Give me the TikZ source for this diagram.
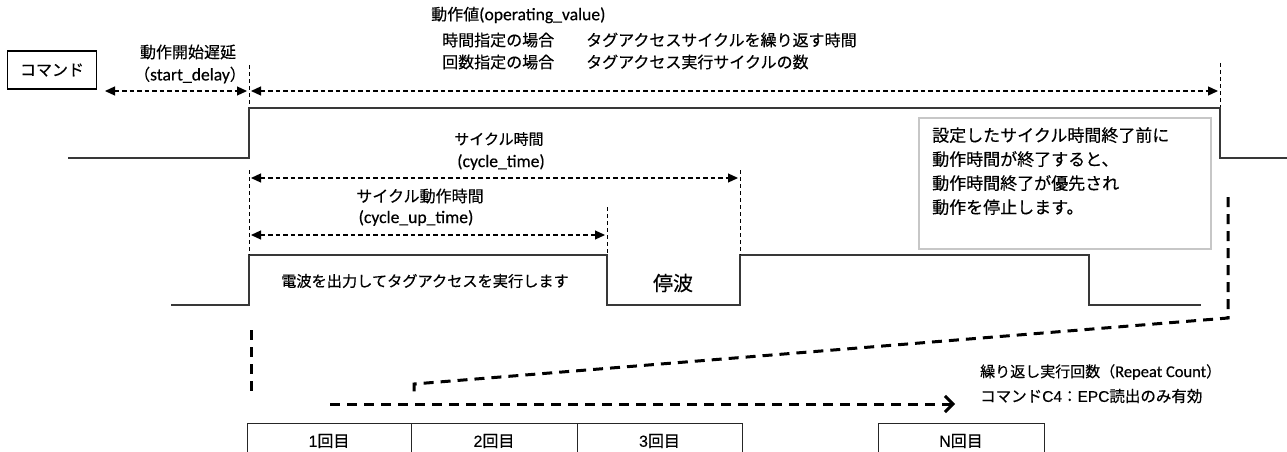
\documentclass[tikz,border=0pt]{standalone}
\usepackage{fontspec}
\setmainfont[FakeBold=0.35]{Noto Sans CJK JP}
\newfontfamily\lat[Scale=1.1,FakeBold=0.35]{Carlito}
\newfontfamily\arl[FakeBold=0.2]{Liberation Sans}
\usetikzlibrary{arrows.meta}
\begin{document}
\begin{tikzpicture}[x=1pt,y=-1pt,
  sig/.style={draw=black!78,line width=1.6pt},
  guide/.style={draw=black,line width=0.9pt,dash pattern=on 4pt off 3pt},
  dim/.style={draw=black,line width=1.2pt,dash pattern=on 4.5pt off 3pt,
    {Triangle[length=10pt,width=9pt]}-{Triangle[length=10pt,width=9pt]}},
  big/.style={draw=black,line width=3pt,dash pattern=on 10pt off 7pt},
  lbl/.style={inner sep=0pt,font=\fontsize{16}{18}\selectfont},
  cell/.style={draw=black!85,line width=1pt,minimum height=36pt,inner sep=0pt,
    font=\fontsize{16}{18}\selectfont},
  ]
\useasboundingbox (0,0) rectangle (1287,452);
\clip (0,0) rectangle (1287,452);
\fill[white] (0,0) rectangle (1287,452);

% command box and labels
\node[draw=black,line width=1.3pt,minimum width=89pt,minimum height=38pt,inner sep=0pt,
  font=\fontsize{16}{18}\selectfont] (cmd) at (52,70) {コマンド};
\node[lbl] (sdl) at (188,52) {動作開始遅延};
\node[lbl] (sdl2) at (190,75) {（{\lat start\_delay}）};
\node[lbl,anchor=west] (ov1) at (431,15) {動作値{\lat(operating\_value)}};
\node[lbl,anchor=west] (ov2) at (442,40) {時間指定の場合　　タグアクセスサイクルを繰り返す時間};
\node[lbl,anchor=west] (ov3) at (442,62) {回数指定の場合　　タグアクセス実行サイクルの数};

% coordinates
\coordinate (sdA) at (105,91);
\coordinate (sdB) at (247,91);
\coordinate (ovA) at (251,91);
\coordinate (ovB) at (1218,91);
\coordinate (g1a) at (249,65);  \coordinate (g1b) at (249,107);
\coordinate (g2a) at (1220,63); \coordinate (g2b) at (1220,107);
\coordinate (g3a) at (249,170); \coordinate (g3b) at (249,255);
\coordinate (g4a) at (607,207); \coordinate (g4b) at (607,255);
\coordinate (g5a) at (740,170); \coordinate (g5b) at (740,255);
\coordinate (ctA) at (251,178); \coordinate (ctB) at (738,178);
\coordinate (cuA) at (251,235); \coordinate (cuB) at (605,235);

% signals
\draw[sig] (68,158) -- (249,158) -- (249,108) -- (1220,108) -- (1220,158) -- (1287,158);
\draw[sig] (171,305) -- (249,305) -- (249,255) -- (607,255) -- (607,305) -- (740,305)
  -- (740,255) -- (1089,255) -- (1089,305) -- (1201,305);

% guides
\draw[guide] (g1a) -- (g1b);
\draw[guide] (g2a) -- (g2b);
\draw[guide] (g3a) -- (g3b);
\draw[guide] (g4a) -- (g4b);
\draw[guide] (g5a) -- (g5b);

% dimension arrows
\draw[dim] (sdA) -- (sdB);
\draw[dim] (ovA) -- (ovB);
\draw[dim] (ctA) -- (ctB);
\draw[dim] (cuA) -- (cuB);

\node[lbl,font=\fontsize{15}{18}\selectfont] (ct1) at (499,139) {サイクル時間};
\node[lbl] (ct2) at (501,162) {\lat(cycle\_time)};
\node[lbl] (cu1) at (420,196) {サイクル動作時間};
\node[lbl] (cu2) at (416,218) {\lat(cycle\_up\_time)};

\node[lbl,font=\fontsize{15.2}{18}\selectfont] (rf) at (425,281) {電波を出力してタグアクセスを実行します};
\node[inner sep=0pt,font=\fontsize{20}{22}\selectfont] (stop) at (673,283) {停波};

% note box
\node[draw=black!22,line width=1.5pt,minimum width=292pt,minimum height=131pt,inner sep=0pt,
  anchor=north west] (note) at (918,117) {};
\node[anchor=north west,inner sep=0pt,align=left,font=\fontsize{17}{24}\selectfont] (notetxt)
  at (932,127) {設定したサイクル時間終了前に\\動作時間が終了すると、\\動作時間終了が優先され\\動作を停止します。};

% thick dashed lines
\coordinate (tlA) at (251,330); \coordinate (tlB) at (251,397);
\coordinate (trA) at (1228,197); \coordinate (trB) at (1228,318);
\coordinate (trC) at (414,384); \coordinate (trD) at (414,394);
\coordinate (haA) at (330,404); \coordinate (haB) at (955,404);
\draw[big] (tlA) -- (tlB);
\draw[big] (trA) -- (trB) -- (trC) -- (trD);
\draw[big,-{Straight Barb[length=8pt,width=16pt]}] (haA) -- (haB);

\node[lbl,anchor=west,font=\fontsize{15}{16}\selectfont] (rc1) at (980,372) {繰り返し実行回数（{\lat Repeat Count}）};
\node[lbl,anchor=west,font=\fontsize{15.5}{16}\selectfont] (rc2) at (980,396) {コマンド{\arl C4}：{\arl EPC}読出のみ有効};

% count cells
\node[cell,minimum width=164pt] (c1) at (329,441) {{\arl 1}回目};
\node[cell,minimum width=166pt] (c2) at (494,441) {{\arl 2}回目};
\node[cell,minimum width=165pt] (c3) at (659.5,441) {{\arl 3}回目};
\node[cell,minimum width=166pt] (cN) at (961,441) {{\arl N}回目};
\end{tikzpicture}
\end{document}
